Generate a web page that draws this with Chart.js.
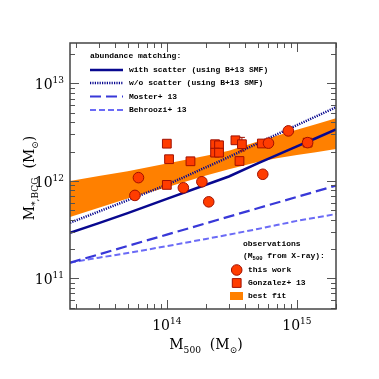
<!DOCTYPE html>
<html>
<head>
<meta charset="utf-8">
<script src="https://cdn.jsdelivr.net/npm/chart.js@4.4.0/dist/chart.umd.min.js"></script>
<style>
  html, body { margin: 0; padding: 0; background: #fff; }
</style>
</head>
<body>
<canvas id="myChart" width="379" height="379"></canvas>
<script>
// model curves, sampled on one halo-mass grid (Msun)
const haloMass   = [1.8e13, 3e13, 5e13, 1e14, 2e14, 3e14, 5e14, 7e14, 1e15, 1.4e15, 2e15];
const withScatter = [2.93e11, 3.69e11, 4.67e11, 6.53e11, 9.14e11, 1.11e12, 1.51e12, 1.84e12, 2.26e12, 2.74e12, 3.37e12];
const noScatter  = [3.72e11, 4.85e11, 6.34e11, 9.12e11, 1.38e12, 1.76e12, 2.43e12, 3.0e12, 3.73e12, 4.58e12, 5.69e12];
const moster13   = [1.45e11, 1.76e11, 2.15e11, 2.81e11, 3.67e11, 4.30e11, 5.24e11, 5.96e11, 6.84e11, 7.80e11, 8.95e11];
const behroozi13 = [1.45e11, 1.63e11, 1.82e11, 2.14e11, 2.54e11, 2.81e11, 3.21e11, 3.52e11, 3.89e11, 4.21e11, 4.57e11];
const fitUpper   = [1.0e12, 1.12e12, 1.26e12, 1.51e12, 1.81e12, 2.04e12, 2.53e12, 2.91e12, 3.35e12, 3.82e12, 4.40e12];
const fitLower   = [4.27e11, 5.31e11, 6.58e11, 8.63e11, 1.135e12, 1.32e12, 1.56e12, 1.71e12, 1.84e12, 1.97e12, 2.12e12];

// observations
const thisWorkM500  = [6.05e13, 5.68e13, 1.34e14, 1.86e14, 2.10e14, 5.47e14, 6.05e14, 8.6e14, 1.21e15];
const thisWorkMstar = [1.08e12, 7.1e11, 8.5e11, 9.8e11, 6.1e11, 1.17e12, 2.44e12, 3.26e12, 2.47e12];
const gonzalezM500  = [1.0e14, 1.04e14, 1.0e14, 1.52e14, 2.35e14, 2.52e14, 2.35e14, 2.52e14, 3.37e14, 3.78e14, 3.62e14, 5.38e14, 1.21e15];
const gonzalezMstar = [2.41e12, 1.67e12, 9.1e11, 1.59e12, 2.38e12, 2.32e12, 1.95e12, 1.95e12, 2.61e12, 2.38e12, 1.6e12, 2.42e12, 2.47e12];
const gonzalezErrDex = [0, 0, 0, 0, 0, 0.04, 0, 0, 0, 0.07, 0, 0, 0];

const xTickExps = [14, 15];
const yTickExps = [11, 12, 13];

const NAVY = '#08088f', MOSTER = '#3838d8', BEHROOZI = '#6b6bf6';
const ORANGE = '#ff8000', DOT_FILL = '#ff3c00', DOT_EDGE = '#a01000';
const SERIF = '"DejaVu Serif", "Liberation Serif", serif';
const MONO = '"Liberation Mono", "DejaVu Sans Mono", monospace';

const pts = (xs, ys) => xs.map((x, i) => ({ x: x, y: ys[i] }));

function curve(data, color, dash, width) {
  return { data: pts(haloMass, data), borderColor: color, borderDash: dash, borderWidth: width,
    pointRadius: 0, fill: false, tension: 0 };
}

// draw text pieces along a baseline, subscripts smaller and lowered
function drawPieces(ctx, pieces, x, y, size) {
  let cx = x;
  pieces.forEach(p => {
    const s = p.sub ? size * 0.65 : size;
    ctx.font = s + 'px ' + SERIF;
    ctx.fillText(p.t, cx, y + (p.sub ? size * 0.28 : 0));
    cx += ctx.measureText(p.t).width;
  });
}
function piecesWidth(ctx, pieces, size) {
  let w = 0;
  pieces.forEach(p => {
    ctx.font = (p.sub ? size * 0.65 : size) + 'px ' + SERIF;
    w += ctx.measureText(p.t).width;
  });
  return w;
}

function marker(ctx, kind, x, y) {
  ctx.fillStyle = DOT_FILL; ctx.strokeStyle = DOT_EDGE; ctx.lineWidth = 1;
  ctx.beginPath();
  if (kind === 'circle') ctx.arc(x, y, 5.3, 0, Math.PI * 2);
  else ctx.rect(x - 4.4, y - 4.4, 8.8, 8.8);
  ctx.fill(); ctx.stroke();
}

const decorations = {
  id: 'decorations',
  beforeDatasetDraw(chart, args) {
    if (args.index !== 1) return;
    const ctx = chart.ctx, xs = chart.scales.x, ys = chart.scales.y;
    ctx.save();
    ctx.strokeStyle = DOT_EDGE; ctx.lineWidth = 1;
    gonzalezErrDex.forEach((e, i) => {
      if (!e) return;
      const px = xs.getPixelForValue(gonzalezM500[i]);
      const y1 = ys.getPixelForValue(gonzalezMstar[i] * Math.pow(10, e));
      const y2 = ys.getPixelForValue(gonzalezMstar[i] / Math.pow(10, e));
      ctx.beginPath();
      ctx.moveTo(px, y1); ctx.lineTo(px, y2);
      ctx.moveTo(px - 3, y1); ctx.lineTo(px + 3, y1);
      ctx.moveTo(px - 3, y2); ctx.lineTo(px + 3, y2);
      ctx.stroke();
    });
    ctx.restore();
  },
  afterDraw(chart) {
    const ctx = chart.ctx, xs = chart.scales.x, ys = chart.scales.y;
    const { left, right, top, bottom } = chart.chartArea;
    ctx.save();

    // inward ticks on all four sides
    ctx.strokeStyle = '#555'; ctx.lineWidth = 1;
    ctx.beginPath();
    for (let e = 13; e <= 15; e++) {
      for (let m = 1; m < 10; m++) {
        const v = m * Math.pow(10, e);
        if (v < xs.min || v > xs.max) continue;
        const px = Math.round(xs.getPixelForValue(v)) + 0.5;
        const len = m === 1 ? 9 : 5;
        ctx.moveTo(px, bottom); ctx.lineTo(px, bottom - len);
        ctx.moveTo(px, top); ctx.lineTo(px, top + len);
      }
    }
    for (let e = 10; e <= 13; e++) {
      for (let m = 1; m < 10; m++) {
        const v = m * Math.pow(10, e);
        if (v < ys.min || v > ys.max) continue;
        const py = Math.round(ys.getPixelForValue(v)) + 0.5;
        const len = m === 1 ? 9 : 5;
        ctx.moveTo(left, py); ctx.lineTo(left + len, py);
        ctx.moveTo(right, py); ctx.lineTo(right - len, py);
      }
    }
    ctx.stroke();
    ctx.strokeStyle = '#444'; ctx.lineWidth = 1.5;
    ctx.strokeRect(left, top, right - left, bottom - top);

    // tick labels 10^n
    ctx.fillStyle = '#000'; ctx.textBaseline = 'alphabetic'; ctx.textAlign = 'left';
    xTickExps.forEach(n => {
      const px = xs.getPixelForValue(Math.pow(10, n));
      ctx.font = '14px ' + SERIF; const w1 = ctx.measureText('10').width;
      ctx.font = '9px ' + SERIF; const w2 = ctx.measureText(String(n)).width;
      const x0 = px - (w1 + w2) / 2;
      ctx.font = '14px ' + SERIF; ctx.fillText('10', x0, 330);
      ctx.font = '9px ' + SERIF; ctx.fillText(String(n), x0 + w1, 324);
    });
    yTickExps.forEach(n => {
      const py = ys.getPixelForValue(Math.pow(10, n));
      ctx.font = '9px ' + SERIF; const w2 = ctx.measureText(String(n)).width;
      ctx.font = '14px ' + SERIF; const w1 = ctx.measureText('10').width;
      const x0 = 64 - w1 - w2;
      ctx.fillText('10', x0, py + 6);
      ctx.font = '9px ' + SERIF; ctx.fillText(String(n), x0 + w1, py);
    });

    // axis titles
    const xTitle = [{ t: 'M' }, { t: '500', sub: true }, { t: '  (M' }, { t: '\u2299', sub: true }, { t: ')' }];
    const xw = piecesWidth(ctx, xTitle, 14);
    drawPieces(ctx, xTitle, 206 - xw / 2, 349, 14);
    const yTitle = [{ t: 'M' }, { t: '*,BCG', sub: true }, { t: '  (M' }, { t: '\u2299', sub: true }, { t: ')' }];
    const yw = piecesWidth(ctx, yTitle, 14);
    ctx.save();
    ctx.translate(34, 178); ctx.rotate(-Math.PI / 2);
    drawPieces(ctx, yTitle, -yw / 2, 0, 14);
    ctx.restore();

    // upper-left legend
    ctx.font = 'bold 8px ' + MONO; ctx.textBaseline = 'middle'; ctx.fillStyle = '#000';
    ctx.fillText('abundance matching:', 90, 56);
    const rows = [
      ['with scatter (using B+13 SMF)', NAVY, [], 2.5],
      ['w/o scatter (using B+13 SMF)', NAVY, [1.2, 1.2], 2.5],
      ['Moster+ 13', MOSTER, [11, 5], 2.2],
      ['Behroozi+ 13', BEHROOZI, [6, 3], 2]
    ];
    const rowY = [70, 83, 96.5, 110];
    rows.forEach((r, i) => {
      ctx.strokeStyle = r[1]; ctx.setLineDash(r[2]); ctx.lineWidth = r[3];
      ctx.beginPath(); ctx.moveTo(90, rowY[i]); ctx.lineTo(123, rowY[i]); ctx.stroke();
      ctx.setLineDash([]);
      ctx.fillStyle = '#000'; ctx.fillText(r[0], 129, rowY[i]);
    });

    // lower-right legend
    ctx.fillText('observations', 243, 244);
    ctx.fillText('(M', 243, 256);
    let wx = 243 + ctx.measureText('(M').width;
    ctx.font = 'bold 5.5px ' + MONO; ctx.fillText('500', wx, 258.5);
    wx += ctx.measureText('500').width;
    ctx.font = 'bold 8px ' + MONO; ctx.fillText(' from X-ray):', wx, 256);
    marker(ctx, 'circle', 236.7, 270);
    marker(ctx, 'rect', 236.7, 283);
    ctx.fillStyle = ORANGE; ctx.fillRect(230, 292, 13, 8);
    ctx.fillStyle = '#000'; ctx.font = 'bold 8px ' + MONO;
    ctx.fillText('this work', 248, 270);
    ctx.fillText('Gonzalez+ 13', 248, 283);
    ctx.fillText('best fit', 248, 296);
    ctx.restore();
  }
};

const ctx = document.getElementById('myChart').getContext('2d');
const chart = new Chart(ctx, {
  type: 'line',
  data: {
    datasets: [
      { data: pts(thisWorkM500, thisWorkMstar), showLine: false, pointStyle: 'circle', pointRadius: 5.3,
        pointBackgroundColor: DOT_FILL, pointBorderColor: DOT_EDGE, pointBorderWidth: 1 },
      { data: pts(gonzalezM500, gonzalezMstar), showLine: false, pointStyle: 'rect', pointRadius: 6.2,
        pointBackgroundColor: DOT_FILL, pointBorderColor: DOT_EDGE, pointBorderWidth: 1 },
      curve(withScatter, NAVY, [], 2.5),
      curve(noScatter, NAVY, [1.2, 1.2], 2.5),
      curve(moster13, MOSTER, [11, 5], 2.2),
      curve(behroozi13, BEHROOZI, [6, 3], 2),
      { data: pts(haloMass, fitUpper), borderColor: 'rgba(0,0,0,0)', backgroundColor: ORANGE,
        pointRadius: 0, fill: '+1', tension: 0 },
      { data: pts(haloMass, fitLower), borderColor: 'rgba(0,0,0,0)', pointRadius: 0, fill: false, tension: 0 }
    ]
  },
  options: {
    responsive: false,
    animation: false,
    devicePixelRatio: 1,
    layout: { padding: { left: 70, right: 43, top: 43, bottom: 70 } },
    plugins: { legend: { display: false }, tooltip: { enabled: false } },
    scales: {
      x: { type: 'logarithmic', min: 1.8e13, max: 2e15, display: false },
      y: { type: 'logarithmic', min: 4.85e10, max: 2.6e13, display: false }
    }
  },
  plugins: [decorations]
});
</script>
</body>
</html>
